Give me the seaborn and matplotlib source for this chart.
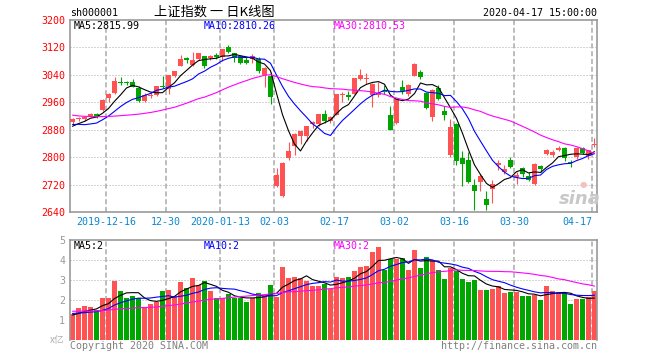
import numpy as np
import pandas as pd
import matplotlib
matplotlib.use('Agg')
import matplotlib.pyplot as plt
import seaborn as sns

# daily candles of sh000001, 2019-12-06 .. 2020-04-17 (88 sessions)
opens = [2903, 2912, 2911, 2921, 2925, 2937, 2972, 2987, 3019, 3018,
         3020, 3002, 2965, 2978, 2981, 3006, 3000, 3038, 3066, 3089,
         3070, 3085, 3094, 3088, 3097, 3091, 3120, 3103, 3094, 3082,
         3085, 3085, 3041, 3037, 2717, 2686, 2797, 2832, 2863, 2862,
         2896, 2898, 2927, 2906, 2924, 2982, 2982, 2985, 3027, 3028,
         2981, 2980, 2994, 2924, 2899, 3006, 2983, 3036, 3047, 2987,
         2918, 3001, 2936, 2805, 2898, 2797, 2792, 2720, 2728, 2678,
         2706, 2777, 2758, 2792, 2743, 2767, 2746, 2723, 2774, 2810,
         2806, 2822, 2828, 2786, 2800, 2828, 2803, 2836]
highs = [2914, 2918, 2920, 2928, 2928, 2970, 2986, 3035, 3033, 3022,
         3029, 3007, 2986, 2989, 3008, 3036, 3041, 3051, 3098, 3093,
         3107, 3105, 3095, 3097, 3105, 3116, 3127, 3105, 3098, 3091,
         3101, 3092, 3062, 3048, 2768, 2787, 2843, 2870, 2877, 2892,
         2906, 2927, 2937, 2920, 2985, 2990, 2993, 3031, 3058, 3044,
         3015, 3020, 3010, 2950, 2971, 3026, 3012, 3074, 3055, 2989,
         3000, 3010, 2950, 2910, 2900, 2818, 2815, 2736, 2750, 2702,
         2733, 2792, 2778, 2800, 2757, 2771, 2757, 2782, 2776, 2825,
         2820, 2832, 2830, 2793, 2830, 2831, 2822, 2856]
lows = [2897, 2905, 2904, 2917, 2913, 2934, 2961, 2983, 3011, 3011,
        3004, 2960, 2960, 2972, 2979, 3001, 2984, 3033, 3066, 3074,
        3065, 3084, 3059, 3082, 3086, 3081, 3105, 3078, 3073, 3072,
        3074, 3044, 3006, 2955, 2714, 2685, 2793, 2806, 2838, 2848,
        2884, 2892, 2901, 2899, 2922, 2960, 2968, 2985, 3025, 3012,
        2946, 2975, 2985, 2878, 2897, 2985, 2978, 3036, 3029, 2940,
        2904, 2968, 2907, 2800, 2776, 2715, 2725, 2646, 2702, 2647,
        2666, 2762, 2752, 2767, 2721, 2743, 2729, 2719, 2756, 2806,
        2800, 2818, 2790, 2772, 2795, 2808, 2796, 2830]
closes = [2912.01, 2914.48, 2917.32, 2924.42, 2915.70, 2967.68, 2984.39, 3022.42, 3017.04, 3017.07,
          3004.94, 2962.75, 2982.68, 2981.88, 3007.35, 3005.04, 3040.02, 3050.12, 3085.20, 3083.79,
          3083.41, 3104.80, 3066.89, 3094.88, 3092.29, 3115.57, 3106.82, 3090.04, 3074.08, 3075.50,
          3095.79, 3052.14, 3060.75, 2976.53, 2746.61, 2783.29, 2818.09, 2866.51, 2875.96, 2890.49,
          2901.67, 2926.90, 2906.07, 2917.01, 2983.62, 2984.97, 2975.40, 3030.15, 3039.67, 3031.23,
          3013.05, 2987.93, 2991.33, 2880.30, 2970.93, 2992.90, 3011.67, 3071.68, 3034.51, 2943.29,
          2996.76, 2968.52, 2923.49, 2887.43, 2789.25, 2779.64, 2728.76, 2702.13, 2745.62, 2660.17,
          2722.44, 2781.59, 2764.91, 2772.20, 2747.21, 2750.30, 2734.52, 2780.64, 2763.99, 2820.76,
          2815.37, 2825.90, 2796.63, 2783.05, 2827.28, 2811.17, 2819.94, 2838.49]
# volume, in 亿 (hundred million)
volumes = [1.30, 1.62, 1.70, 1.65, 1.50, 2.12, 2.12, 2.97, 2.45, 2.12,
           2.18, 2.10, 1.67, 1.78, 1.92, 2.45, 2.52, 2.22, 2.92, 2.62,
           3.12, 2.75, 2.97, 2.45, 2.12, 2.12, 2.28, 2.08, 2.12, 1.92,
           2.12, 2.37, 2.25, 2.75, 2.17, 3.67, 3.12, 3.17, 3.12, 2.97,
           2.72, 2.72, 2.78, 2.53, 3.17, 3.12, 3.17, 3.45, 3.65, 3.72,
           4.42, 4.65, 3.50, 4.03, 4.03, 4.10, 3.50, 4.48, 3.62, 4.15,
           3.98, 3.50, 3.05, 3.62, 3.45, 3.05, 2.90, 3.00, 2.52, 2.52,
           2.55, 2.70, 2.35, 2.40, 2.40, 2.20, 2.20, 2.25, 2.00, 2.70,
           2.45, 2.40, 2.35, 1.80, 2.05, 2.05, 2.15, 2.45]

# the 29 sessions before the first candle, only used to start the moving averages
pre_closes = [2980.05, 2954.18, 2939.32, 2929.06, 2958.20, 2975.49, 2991.56, 2978.60, 2978.71, 2964.18,
              2909.20, 2914.82, 2905.24, 2909.87, 2891.34, 2909.20, 2933.99, 2911.05, 2903.64, 2885.29,
              2906.17, 2929.06, 2903.19, 2889.69, 2871.98, 2875.81, 2884.70, 2878.12, 2899.47]
pre_volumes = [1.50, 1.60, 1.55, 1.45, 1.40, 1.50, 1.70, 1.80, 1.65, 1.50,
               1.55, 1.45, 1.40, 1.35, 1.50, 1.45, 1.40, 1.35, 1.30, 1.45,
               1.40, 1.50, 1.35, 1.30, 1.45, 1.25, 1.20, 1.30, 1.20]

tick_pos = [6, 16, 25, 34, 44, 54, 64, 74, 87]
tick_labels = ['2019-12-16', '12-30', '2020-01-13', '02-03', '02-17', '03-02', '03-16', '03-30', '04-17']
price_ticks = [2640, 2720, 2800, 2880, 2960, 3040, 3120, 3200]
vol_ticks = [1, 2, 3, 4, 5]

RED = '#ff5353'
GREEN = '#00a600'
GRID = '#aaaaaa'
SPINE = '#999999'
MONO = 'DejaVu Sans Mono'
ma_colors = {'MA5': 'black', 'MA10': '#0000ff', 'MA30': '#ff00ff'}

sns.set_style('white')
plt.rcParams['font.family'] = ['DejaVu Sans Mono', 'Noto Sans CJK SC']

n = len(closes)
x = np.arange(n)
o = np.array(opens, float)
c = np.array(closes, float)
up = c >= o
cols = np.where(up, RED, GREEN)

# moving averages
all_c = pd.Series(pre_closes + closes)
all_v = pd.Series(pre_volumes + volumes)
ma = pd.DataFrame({'x': x})
vma = pd.DataFrame({'x': x})
for k in (5, 10, 30):
    ma[f'MA{k}'] = all_c.rolling(k).mean().values[-n:]
    vma[f'MA{k}'] = all_v.rolling(k).mean().values[-n:]
ma_long = ma.melt(id_vars='x', var_name='line', value_name='v')
vma_long = vma.melt(id_vars='x', var_name='line', value_name='v')

W, H = 660, 360
fig = plt.figure(figsize=(W / 100, H / 100), dpi=100)
fig.patch.set_facecolor('white')
ax = fig.add_axes([70 / W, 1 - 212 / H, 527 / W, 192 / H])
axv = fig.add_axes([70 / W, 1 - 340 / H, 527 / W, 100 / H])

xl = (-5 / 12, n - 1 + 5 / 12)
grid_x = np.array(tick_pos) - 5 / 12

# price panel
for yv in price_ticks[1:-1]:
    ax.axhline(yv, color=GRID, lw=0.72, ls=(0, (1, 2)), zorder=0)
for gx in grid_x:
    ax.axvline(gx, color=GRID, lw=1.1, ls=(0, (3.3, 1.8)), zorder=0)

ax.vlines(x, lows, highs, colors=cols, lw=0.8, zorder=2)
body_lo = np.minimum(o, c)
body_h = np.maximum(np.abs(c - o), 2.9)
ax.bar(x, body_h, bottom=body_lo, width=5 / 6, color=cols, lw=0, zorder=3)

sns.lineplot(data=ma_long, x='x', y='v', hue='line', palette=ma_colors,
             lw=0.8, legend=False, ax=ax, zorder=4)

ax.set_xlim(*xl)
ax.set_ylim(2640, 3200)
ax.set_yticks(price_ticks)
ax.set_yticklabels([str(t) for t in price_ticks], color='#ff0000', fontsize=7.2, family=MONO)
ax.set_xticks(grid_x)
ax.set_xticklabels(tick_labels, color='#0a87d0', fontsize=7.2, family=MONO)
ax.get_xticklabels()[-1].set_horizontalalignment('right')
ax.tick_params(axis='both', length=0)
ax.tick_params(axis='y', pad=3.5)
ax.tick_params(axis='x', pad=3.5)
ax.set_xlabel('')
ax.set_ylabel('')
for s in ax.spines.values():
    s.set_color(SPINE)
    s.set_linewidth(1.2)

# volume panel
for yv in vol_ticks[:-1]:
    axv.axhline(yv, color=GRID, lw=0.72, ls=(0, (1, 2)), zorder=0)
for gx in grid_x:
    axv.axvline(gx, color=GRID, lw=1.1, ls=(0, (3.3, 1.8)), zorder=0)
axv.bar(x, volumes, width=5 / 6, color=cols, lw=0, zorder=2)
sns.lineplot(data=vma_long, x='x', y='v', hue='line', palette=ma_colors,
             lw=0.8, legend=False, ax=axv, zorder=4)
axv.set_xlim(*xl)
axv.set_ylim(0, 5)
axv.set_yticks(vol_ticks)
axv.set_yticklabels([str(t) for t in vol_ticks], color='#999999', fontsize=7.2, family=MONO)
axv.set_xticks([])
axv.tick_params(axis='both', length=0)
axv.tick_params(axis='y', pad=3.5)
axv.set_xlabel('')
axv.set_ylabel('')
for s in axv.spines.values():
    s.set_color(SPINE)
    s.set_linewidth(1.2)
axv.spines['bottom'].set_visible(False)


def ftext(px, py, s, **kw):
    fig.text(px / W, 1 - py / H, s, **kw)


# header
ftext(70, 13, 'sh000001', fontsize=7.2, family=MONO, va='center', color='black')
ftext(214, 12, '上证指数 一 日K线图', fontsize=9.5, family=['Noto Sans CJK SC', 'DejaVu Sans'],
      ha='center', va='center', color='black')
ftext(597, 13, '2020-04-17 15:00:00', fontsize=7.2, family=MONO, ha='right', va='center', color='black')

# MA captions (volume ones shown as whole numbers, cut not rounded)
ftext(74, 26, f"MA5:{ma['MA5'].iloc[-1]:.2f}", fontsize=7.2, family=MONO, va='center', color='black')
ftext(204, 26, f"MA10:{ma['MA10'].iloc[-1]:.2f}", fontsize=7.2, family=MONO, va='center', color='#0000ff')
ftext(334, 26, f"MA30:{ma['MA30'].iloc[-1]:.2f}", fontsize=7.2, family=MONO, va='center', color='#ff00ff')
ftext(74, 246, f"MA5:{int(vma['MA5'].iloc[-1])}", fontsize=7.2, family=MONO, va='center', color='black')
ftext(204, 246, f"MA10:{int(vma['MA10'].iloc[-1])}", fontsize=7.2, family=MONO, va='center', color='#0000ff')
ftext(334, 246, f"MA30:{int(vma['MA30'].iloc[-1])}", fontsize=7.2, family=MONO, va='center', color='#ff00ff')

ftext(64, 340, 'x亿', fontsize=7, family=['Noto Sans CJK SC', 'DejaVu Sans'],
      ha='right', va='center', color='#b0b0b0')

# footer
ftext(70, 346, 'Copyright 2020 SINA.COM', fontsize=7.2, family=MONO, va='center', color='#808080')
ftext(597, 346, 'http://finance.sina.com.cn', fontsize=7.2, family=MONO, ha='right', va='center', color='#808080')

# watermark
ftext(580, 199, 'sina', fontsize=13, family='DejaVu Sans', style='italic', weight='bold',
      ha='center', va='center', color='#c8c8c8')
ftext(583, 184, '●', fontsize=6, family='DejaVu Sans', ha='center', va='center', color='#f5c0c0')

fig.savefig('out.png', dpi=100, facecolor='white')
